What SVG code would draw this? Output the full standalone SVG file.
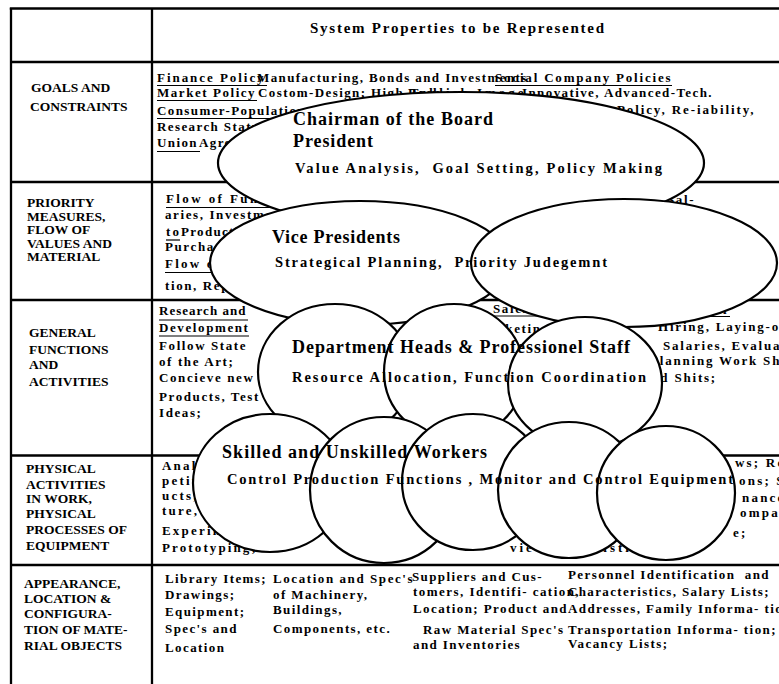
<svg xmlns="http://www.w3.org/2000/svg" width="779" height="684" viewBox="0 0 779 684">
<style>
text{font-family:"Liberation Serif","Times New Roman",serif;font-weight:bold;fill:#000}
.l{font-size:13.5px}
.t{font-size:13px;letter-spacing:1.4px}
.p{font-size:13px;letter-spacing:1.6px}
.g{font-size:13px;letter-spacing:1.6px}
.f{font-size:13px;letter-spacing:2.2px}
.h{font-size:15px}
.n1{font-size:18px}
.n2{font-size:14.5px}
.pre{white-space:pre}
.grid line{stroke:#000;stroke-width:2.3}
.ul line{stroke:#000;stroke-width:1.2}
.nd ellipse{fill:#fff;stroke:#000;stroke-width:2.2}
</style>
<rect width="779" height="684" fill="#fff"/>
<g id="table" class="grid">
<line x1="9.8" y1="8.5" x2="779" y2="8.5"/>
<line x1="11" y1="8" x2="11" y2="684"/>
<line x1="152" y1="8" x2="152" y2="684"/>
<line x1="11" y1="62" x2="779" y2="62"/>
<line x1="11" y1="182" x2="779" y2="182"/>
<line x1="11" y1="300" x2="779" y2="300"/>
<line x1="11" y1="455.5" x2="779" y2="455.5"/>
<line x1="11" y1="565" x2="779" y2="565"/>
</g>
<g id="row-labels" class="l">
<text class="h" x="310" y="33" textLength="294">System Properties to be Represented</text>
<text x="31" y="92">GOALS AND</text>
<text x="30" y="111">CONSTRAINTS</text>
<text x="27" y="207">PRIORITY</text>
<text x="27" y="221">MEASURES,</text>
<text x="27" y="234">FLOW OF</text>
<text x="27" y="248">VALUES AND</text>
<text x="27" y="261">MATERIAL</text>
<text x="29" y="337">GENERAL</text>
<text x="29" y="354">FUNCTIONS</text>
<text x="29" y="369">AND</text>
<text x="29" y="386">ACTIVITIES</text>
<text x="26" y="473">PHYSICAL</text>
<text x="26" y="489">ACTIVITIES</text>
<text x="26" y="503">IN WORK,</text>
<text x="26" y="518">PHYSICAL</text>
<text x="26" y="534">PROCESSES OF</text>
<text x="26" y="550">EQUIPMENT</text>
<text x="24" y="588">APPEARANCE,</text>
<text x="24" y="603">LOCATION &amp;</text>
<text x="24" y="618">CONFIGURA-</text>
<text x="24" y="634">TION OF MATE-</text>
<text x="24" y="650">RIAL OBJECTS</text>
</g>
<g id="cells">
<g class="t">
<text x="157" y="82" textLength="108">Finance Policy</text>
<text x="257" y="82">Manufacturing, Bonds and Investments</text>
<text x="495" y="82" textLength="177">Social Company Policies</text>
<text x="157" y="97" textLength="99">Market Policy</text>
<text x="258" y="97">Costom-Design; High-Tech.</text>
<text x="408" y="97" textLength="117">Publish Image</text>
<text x="522" y="97" textLength="191">Innovative, Advanced-Tech.</text>
<text x="157" y="115">Consumer-Population</text>
<text x="617" y="114" textLength="138">Policy, Re-iability,</text>
<text x="157" y="131">Research Status</text>
<text x="157" y="147">Union</text>
<text x="199" y="147">Agreements</text>
</g>
<g class="p">
<text x="166" y="203" style="letter-spacing:2.4px">Flow of Funds</text>
<text x="165" y="219">aries, Investments</text>
<text x="166" y="236" style="letter-spacing:2.2px">to</text>
<text x="181" y="236" style="letter-spacing:1.3px">Production</text>
<text x="165" y="251">Purchasing</text>
<text x="165" y="268" style="letter-spacing:2.2px">Flow of Information</text>
<text x="165" y="290">tion, Reports</text>
<text x="667" y="204">Sal-</text>
</g>
<g class="g">
<text x="159" y="315" textLength="88">Research and</text>
<text x="159" y="332">Development</text>
<text x="159" y="350">Follow State</text>
<text x="159" y="366">of the Art;</text>
<text x="159" y="382">Concieve new</text>
<text x="159" y="401">Products, Test</text>
<text x="159" y="417">Ideas;</text>
<text x="493" y="313">Sales</text>
<text x="476" y="333">Marketing;</text>
<text x="659" y="314">Personnel</text>
<text x="658" y="331" style="letter-spacing:1.8px">Hiring, Laying-off,</text>
<text x="663" y="350" style="letter-spacing:1.8px">Salaries, Evaluation</text>
<text x="650" y="365" style="letter-spacing:1.8px">Planning Work Shifts</text>
<text x="643" y="382" style="letter-spacing:1.8px">and Shits;</text>
</g>
<g class="f">
<text x="162" y="470">Analysis of Com-</text>
<text x="162" y="485">petitors' Prod-</text>
<text x="162" y="500">ucts, Litera-</text>
<text x="162" y="515">ture, Patents;</text>
<text x="162" y="535">Experiments</text>
<text x="319" y="535">Methods</text>
<text x="162" y="552" textLength="96">Prototyping;</text>
<text x="735" y="467">ws; Re</text>
<text x="739" y="485">ons; S</text>
<text x="742" y="502">nance</text>
<text x="740" y="517">ompa</text>
<text x="733" y="537">e;</text>
<text x="510" y="552" style="letter-spacing:3px">views; Statistics</text>
</g>
<g class="t">
<text x="165" y="583" textLength="102">Library Items;</text>
<text x="165" y="599">Drawings;</text>
<text x="165" y="616">Equipment;</text>
<text x="165" y="633">Spec's and</text>
<text x="165" y="652">Location</text>
<text x="273" y="583" textLength="141">Location and Spec's</text>
<text x="273" y="599">of Machinery,</text>
<text x="273" y="614">Buildings,</text>
<text x="273" y="633">Components, etc.</text>
<text x="412" y="581" textLength="131">Suppliers and Cus-</text>
<text x="413" y="596" textLength="167">tomers, Identifi- cation,</text>
<text x="413" y="613" textLength="155">Location; Product and</text>
<text x="423" y="634">Raw Material Spec's</text>
<text x="413" y="649">and Inventories</text>
<text x="568" y="579" class="pre" textLength="202">Personnel Identification  and</text>
<text x="568" y="596" textLength="202">Characteristics, Salary Lists;</text>
<text x="568" y="613">Addresses, Family Informa- tion</text>
<text x="568" y="634" textLength="209">Transportation Informa- tion;</text>
<text x="568" y="648">Vacancy Lists;</text>
</g>
<g class="ul">
<line x1="157" y1="85.5" x2="267" y2="85.5"/>
<line x1="495" y1="85.5" x2="672" y2="85.5"/>
<line x1="157" y1="100.5" x2="257" y2="100.5"/>
<line x1="157" y1="118.5" x2="320" y2="118.5"/>
<line x1="157" y1="151.5" x2="200" y2="151.5"/>
<line x1="166" y1="207.5" x2="300" y2="207.5"/>
<line x1="166" y1="240" x2="180" y2="240"/>
<line x1="165" y1="272.5" x2="300" y2="272.5"/>
<line x1="159" y1="320" x2="248" y2="320"/>
<line x1="159" y1="336" x2="249" y2="336"/>
<line x1="493" y1="316" x2="545" y2="316"/>
<line x1="663" y1="316.5" x2="730" y2="316.5"/>
</g>
</g>
<g id="connectors"></g>
<g id="node-chairman" class="nd">
<ellipse cx="461" cy="163" rx="243" ry="71"/>
<text class="n1" x="293" y="125" textLength="200">Chairman of the Board</text>
<text class="n1" x="293" y="147" textLength="80">President</text>
<text class="n2 pre" x="295" y="173" textLength="367">Value Analysis,  Goal Setting, Policy Making</text>
</g>
<g id="node-vice-presidents" class="nd">
<ellipse cx="360" cy="263" rx="150" ry="62"/>
<ellipse cx="624" cy="263" rx="153" ry="64"/>
<text class="n1" x="272" y="243" textLength="128">Vice Presidents</text>
<text class="n2 pre" x="275" y="267" textLength="332">Strategical Planning,  Priority Judegemnt</text>
</g>
<g id="node-department-heads" class="nd">
<ellipse cx="335" cy="372" rx="77" ry="68"/>
<ellipse cx="454" cy="372" rx="70" ry="68"/>
<ellipse cx="585" cy="383" rx="77" ry="66"/>
<text class="n1" x="292" y="353" textLength="338">Department Heads &amp; Professionel Staff</text>
<text class="n2" x="292" y="382" textLength="354">Resource Allocation, Function Coordination</text>
</g>
<g id="node-workers" class="nd">
<ellipse cx="270" cy="483" rx="77" ry="69"/>
<ellipse cx="384" cy="490" rx="74" ry="73"/>
<ellipse cx="473" cy="482" rx="71" ry="68"/>
<ellipse cx="569" cy="490" rx="71" ry="68"/>
<ellipse cx="666" cy="493" rx="69" ry="67"/>
<text class="n1" x="222" y="458" textLength="265">Skilled and Unskilled Workers</text>
<text class="n2" x="227" y="484" textLength="506">Control Production Functions , Monitor and Control Equipment</text>
</g>
</svg>
